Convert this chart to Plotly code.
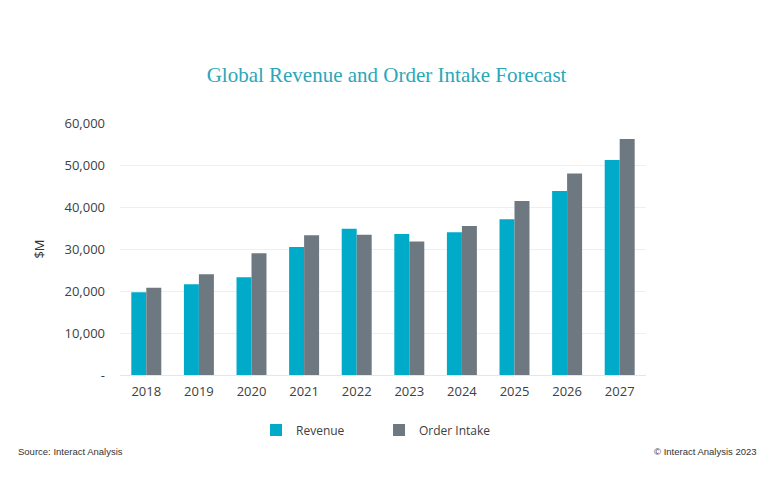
import plotly.graph_objects as go

years = ["2018", "2019", "2020", "2021", "2022", "2023", "2024", "2025", "2026", "2027"]
revenue = [19700, 21600, 23300, 30500, 34800, 33600, 34000, 37100, 43800, 51200]
order_intake = [20800, 24000, 29000, 33300, 33400, 31800, 35500, 41400, 48000, 56200]
tick_vals = [0, 10000, 20000, 30000, 40000, 50000, 60000]
tick_text = ["-", "10,000", "20,000", "30,000", "40,000", "50,000", "60,000"]

fig = go.Figure()
fig.add_trace(go.Bar(x=years, y=revenue, name="Revenue", marker_color="#00abc9",
                     marker_line_width=0))
fig.add_trace(go.Bar(x=years, y=order_intake, name="Order Intake", marker_color="#6e7880",
                     marker_line_width=0))

fig.update_layout(
    width=770, height=500,
    barmode="group", bargap=0.43, bargroupgap=0,
    paper_bgcolor="white", plot_bgcolor="white",
    margin=dict(l=112, r=132, t=115, b=133),
    font=dict(family="Open Sans, Liberation Sans, sans-serif", color="#404040", size=12),
    title=dict(text="Global Revenue and Order Intake Forecast", xref="container", x=0.4916,
               xanchor="center", y=0.866, yanchor="middle",
               font=dict(family="Liberation Serif, DejaVu Serif, serif", size=21, color="#2aa7b9")),
    showlegend=True,
    legend=dict(orientation="h", x=0.2586, xanchor="left", y=-0.218, yanchor="middle",
                font=dict(size=12, color="#404040"), itemwidth=30,
                entrywidth=78, entrywidthmode="pixels", tracegroupgap=0),
    xaxis=dict(showgrid=False, showline=False, ticks="", ticklabelstandoff=7,
               tickfont=dict(size=13, color="#404040")),
    yaxis=dict(range=[0, 60000], tickvals=tick_vals, ticktext=tick_text,
               showgrid=True, gridcolor="#efefef", gridwidth=1, zeroline=True,
               zerolinecolor="#e6e6e6", zerolinewidth=1,
               ticks="", ticklabelstandoff=14, tickfont=dict(size=13, color="#404040"),
               title=dict(text="$M", font=dict(size=13, color="#333333"), standoff=16)),
    annotations=[
        dict(text="Source: Interact Analysis", xref="paper", yref="paper", x=-0.197, y=-0.3016,
             xanchor="left", yanchor="middle", showarrow=False,
             font=dict(size=9.5, color="#333333", family="Liberation Sans Narrow, Liberation Sans, sans-serif")),
        dict(text="© Interact Analysis 2023", xref="paper", yref="paper", x=1.215, y=-0.3016,
             xanchor="right", yanchor="middle", showarrow=False,
             font=dict(size=9.5, color="#333333", family="Liberation Sans Narrow, Liberation Sans, sans-serif")),
    ],
)

fig.write_html("out.html")
